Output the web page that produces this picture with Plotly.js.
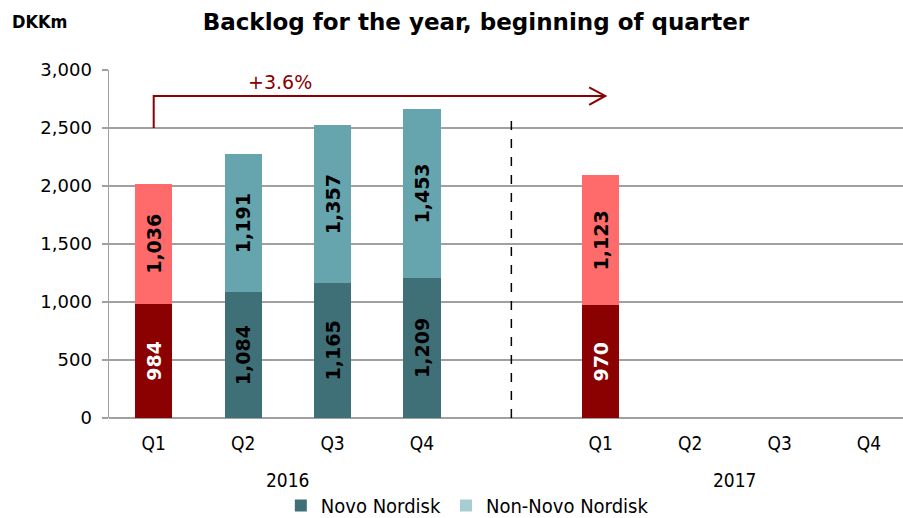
<!DOCTYPE html>
<html>
<head>
<meta charset="utf-8">
<script src="https://cdn.plot.ly/plotly-3.0.1.min.js"></script>
<style>html,body{margin:0;padding:0;background:#fff;}#chart{width:903px;height:518px;}</style>
</head>
<body>
<div id="chart"></div>
<script>
// ---- data ----
const quarters = ['Q1', 'Q2', 'Q3', 'Q4', 'Q1', 'Q2', 'Q3', 'Q4'];
const slots = [0, 1, 2, 3, 5, 6, 7, 8];          // category slot (4 = gap between years)
const years = ['2016', '2017'];
const yearSlots = [1.5, 6.5];
const novoNordisk = [984, 1084, 1165, 1209, 970, null, null, null];
const nonNovoNordisk = [1036, 1191, 1357, 1453, 1123, null, null, null];
const seriesNames = ['Novo Nordisk', 'Non-Novo Nordisk'];
const growthLabel = '+3.6%';
const unitLabel = 'DKKm';
const chartTitle = 'Backlog for the year, beginning of quarter';

// ---- styling ----
const C = {
  red: '#8B0000', salmon: '#FF6B6B',
  teal: '#3F7078', lightTeal: '#66A5AE', legendLight: '#A5CDD2',
  grid: '#A0A0A0'
};
const isQ1 = quarters.map(q => q === 'Q1');
const labelFont = 'DejaVu Sans, Verdana, sans-serif';
const narrowFont = 'DejaVu Sans Condensed, Liberation Sans Narrow, DejaVu Sans, sans-serif';

const traces = [
  {
    type: 'bar', x: slots, y: novoNordisk, name: seriesNames[0], showlegend: false,
    marker: { color: isQ1.map(h => h ? C.red : C.teal) },
    texttemplate: '%{y:,}', textposition: 'inside', textangle: -90,
    insidetextanchor: 'middle', constraintext: 'none',
    insidetextfont: { family: labelFont, size: 19, weight: 'bold', color: isQ1.map(h => h ? '#FFFFFF' : '#000000') },
    width: 0.415, hoverinfo: 'skip'
  },
  {
    type: 'bar', x: slots, y: nonNovoNordisk, name: seriesNames[1], showlegend: false,
    marker: { color: isQ1.map(h => h ? C.salmon : C.lightTeal) },
    texttemplate: '%{y:,}', textposition: 'inside', textangle: -90,
    insidetextanchor: 'middle', constraintext: 'none',
    insidetextfont: { family: labelFont, size: 19, weight: 'bold', color: '#000000' },
    width: 0.415, hoverinfo: 'skip'
  },
  { type: 'bar', x: [null], y: [null], name: seriesNames[0], marker: { color: C.teal }, showlegend: true },
  { type: 'bar', x: [null], y: [null], name: seriesNames[1], marker: { color: C.legendLight }, showlegend: true }
];

const annotations = [
  { xref: 'paper', yref: 'paper', x: -0.125, y: 1.138, xanchor: 'left', yanchor: 'middle',
    text: '<b>' + unitLabel + '</b>', showarrow: false,
    font: { family: narrowFont, size: 18, color: '#000' } },
  { xref: 'x', yref: 'y', x: 1.41, y: 2900, xanchor: 'center', yanchor: 'middle',
    text: growthLabel, showarrow: false, font: { family: labelFont, size: 19, color: C.red } }
];
years.forEach((yr, i) => annotations.push({
  xref: 'x', yref: 'paper', x: yearSlots[i], y: 0, yanchor: 'middle', yshift: -62,
  text: yr, showarrow: false, font: { family: narrowFont, size: 19, color: '#000' }
}));

const shapes = [
  // growth arrow: elbow line from Q1 2016 to Q1 2017
  { type: 'path', xref: 'x', yref: 'y', path: 'M 0,2500 L 0,2776 L 5.05,2776',
    line: { color: C.red, width: 2 } },
  { type: 'path', xref: 'x', yref: 'y', path: 'M 4.87,2850 L 5.05,2776 L 4.87,2700',
    line: { color: C.red, width: 2 } },
  // year separator
  { type: 'line', xref: 'x', yref: 'y', x0: 4, x1: 4, y0: 0, y1: 2590,
    line: { color: '#000', width: 1.5, dash: 'dash' } }
];

const layout = {
  width: 903, height: 518,
  margin: { l: 109, r: 0, t: 70, b: 100, autoexpand: false },
  paper_bgcolor: '#fff', plot_bgcolor: '#fff',
  barmode: 'stack',
  showlegend: true,
  title: { text: chartTitle, font: { family: labelFont, size: 23, weight: 'bold', color: '#000' },
    xref: 'container', x: 0.527, xanchor: 'center', yref: 'container', y: 0.957, yanchor: 'middle' },
  xaxis: {
    range: [-0.5, 8.38], tickvals: slots, ticktext: quarters,
    showgrid: false, zeroline: false, showline: false, ticks: '',
    tickfont: { family: narrowFont, size: 19, color: '#000' }, ticklabelstandoff: 12,
    fixedrange: true
  },
  yaxis: {
    range: [0, 3000], tickvals: [0, 500, 1000, 1500, 2000, 2500, 3000],
    tickformat: ',', showgrid: true, gridcolor: C.grid, gridwidth: 1.5,
    zeroline: true, zerolinecolor: C.grid, zerolinewidth: 1.5,
    showline: true, linecolor: C.grid, linewidth: 1.5,
    ticks: 'outside', ticklen: 6, tickcolor: C.grid, tickwidth: 1.5,
    tickfont: { family: labelFont, size: 18, color: '#000' }, ticklabelstandoff: 6,
    fixedrange: true
  },
  legend: { orientation: 'h', xref: 'container', x: 0.311, xanchor: 'left',
    yref: 'container', y: 0.024, yanchor: 'middle',
    font: { family: narrowFont, size: 20, color: '#000' }, itemclick: false,
    traceorder: 'normal', bgcolor: 'rgba(0,0,0,0)' },
  annotations: annotations,
  shapes: shapes
};

Plotly.newPlot('chart', traces, layout, { staticPlot: true, displayModeBar: false });
</script>
</body>
</html>
